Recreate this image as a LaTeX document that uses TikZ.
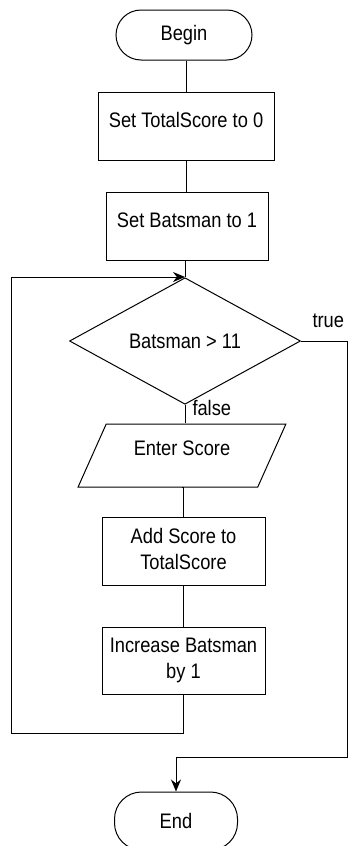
\documentclass[tikz,border=0pt]{standalone}
\usepackage{fontspec}
\setmainfont{Liberation Sans}[FakeStretch=0.87]
\usetikzlibrary{shapes.geometric,arrows.meta}
\begin{document}
\begin{tikzpicture}[x=1pt,y=-1pt,line width=1pt,
  every node/.style={font=\fontsize{21}{26}\selectfont,inner sep=0pt},
  term/.style={draw,rectangle,rounded corners=25pt,minimum width=136pt,minimum height=50pt},
  proc/.style={draw,rectangle,align=center,minimum width=163pt,minimum height=68pt},
  decide/.style={draw,diamond,minimum width=231pt,minimum height=96pt},
  io/.style={draw,trapezium,trapezium left angle=58,trapezium right angle=122,
    trapezium stretches=true,minimum width=208pt,minimum height=63pt},
  flow/.style={-{Stealth[length=12pt,width=10pt]}},
  tag/.style={anchor=west}]
\useasboundingbox (0,0) rectangle (348,846);

% shapes of the flow chart
\node[term] (begin) at (184,35) {Begin};
\node[proc,minimum width=176pt] (set0) at (186,126) {\raisebox{12pt}{Set TotalScore to 0}};
\node[proc,minimum width=162pt] (set1) at (187,226) {\raisebox{12pt}{Set Batsman to 1}};
\node[decide] (dia) at (185,341) {Batsman > 11};
\node[io] (inp) at (182,455.5) {\raisebox{14pt}{Enter Score}};
\node[proc] (add) at (183.5,551) {\raisebox{-18pt}{\begin{tabular}{@{}c@{}}Add Score to\\TotalScore\end{tabular}}};
\node[proc,minimum height=67pt] (inc) at (183.5,660.5) {Increase Batsman\\by 1};
\node[term,minimum width=123pt,minimum height=58pt,rounded corners=27pt] (end) at (176,821) {\raisebox{-2pt}{End}};

% branch labels
\node[tag] (truelbl) at (312,321) {true};
\node[tag] (falselbl) at (192,408) {false};

% corner points of the loop and of the exit path
\coordinate (merge) at (185,277);
\coordinate (loopBL) at (11,733);
\coordinate (trueR) at (347,757);

% connectors
\draw (set0.north |- begin.south) -- (set0.north);
\draw (set0.south) -- (set0.south |- set1.north);
\draw (set1.south) -- (set1.south -| dia.north) -- (dia.north);
\draw (dia.south) -- (dia.south |- inp.north);
\draw (inp.south) -- (inp.south -| add.north) -- (add.north);
\draw (add.south) -- (inc.north);
\draw[flow] (inc.south) |- (loopBL) |- (merge);
\draw[flow] (dia.east) -| (trueR) -| (end.north);
\end{tikzpicture}
\end{document}
